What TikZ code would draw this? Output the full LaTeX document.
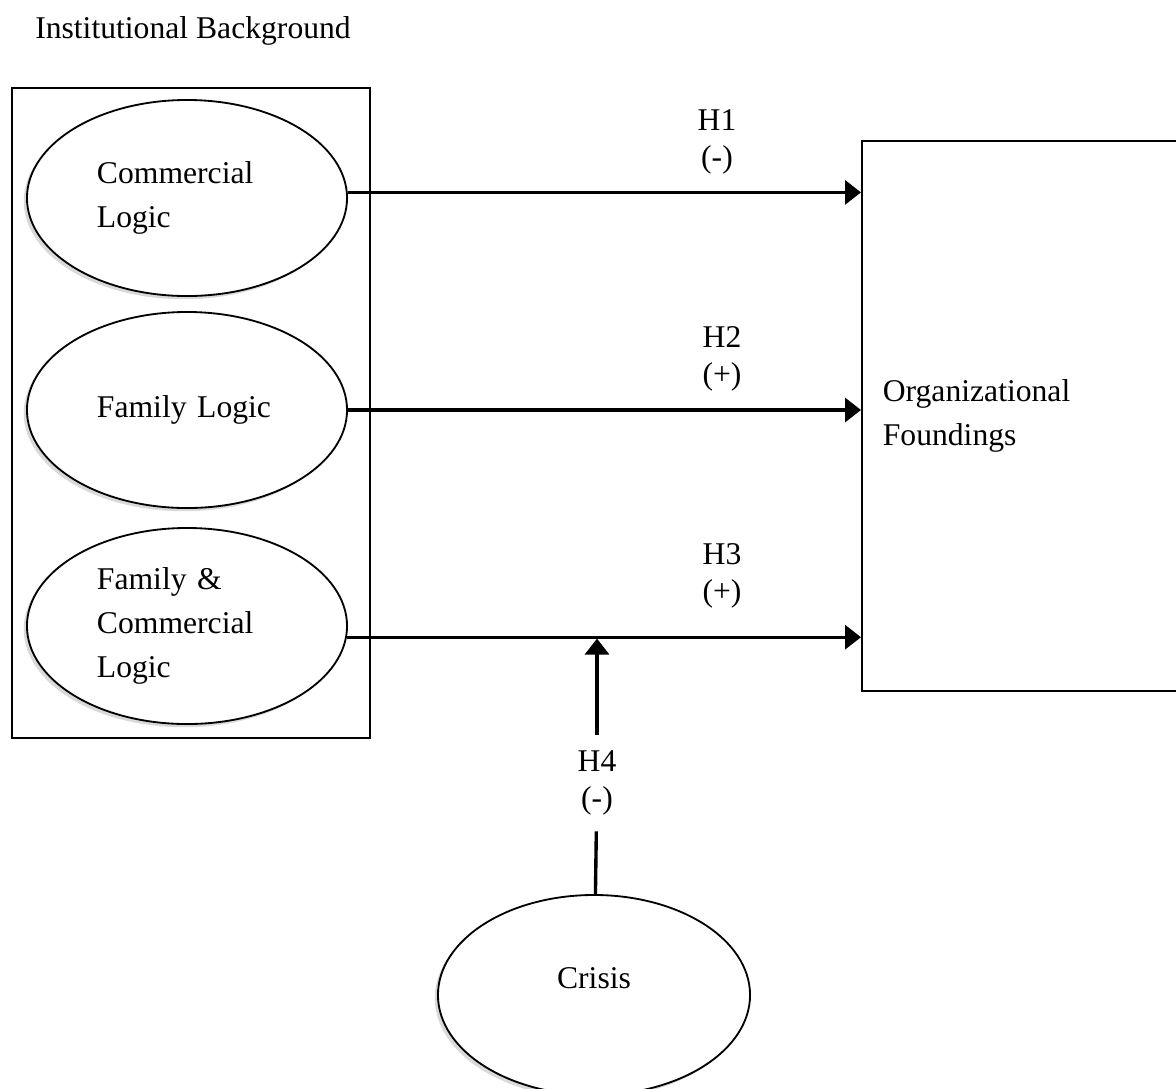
\documentclass[tikz,border=0pt]{standalone}
\usepackage{fontspec}
\setmainfont{Liberation Serif}
\usetikzlibrary{shapes.geometric,arrows.meta,shadows}

\begin{document}
\begin{tikzpicture}[x=0.025cm, y=-0.025cm,
    font=\fontsize{22.5}{31}\selectfont,
    logic/.style={ellipse, draw, line width=1.3pt, fill=white,
        minimum width=8cm, minimum height=4.9cm, text width=4.5cm, align=left,
        drop shadow={shadow xshift=-0.08cm, shadow yshift=-0.08cm, opacity=0.3}},
    box/.style={draw, line width=1.2pt},
    link/.style={line width=2.4pt, -{Triangle[length=0.4cm, width=0.6cm]}},
    hyp/.style={align=center, inner sep=0pt, font=\fontsize{22.5}{26}\selectfont}]
        \useasboundingbox (0,0) rectangle (1176,1088);
        \clip (0,0) rectangle (1176,1088);

        % Title and the frame round the logics
        \node[anchor=base west, inner sep=0pt] (title) at (35,38) {Institutional Background};
        \node[box, minimum width=8.95cm, minimum height=16.25cm] (inst) at (191,413) {};

        % Logics
        \node[logic] (comm) at (187,198) {Commercial\\Logic};
        \node[logic] (fam) at (187,410) {Family Logic};
        \node[logic] (fcl) at (187,626) {Family \&\\Commercial\\Logic};

        % Outcome and moderator
        \node[box, anchor=north west, minimum width=8.25cm, minimum height=13.75cm,
            text width=7.2cm, inner xsep=0.525cm, align=left] (org) at (861,140) {Organizational\\Foundings};
        \node[logic, minimum width=7.8cm, minimum height=5cm, align=center,
            text depth=24pt] (crisis) at (594,995) {Crisis};

        % Hypotheses
        \node[hyp] (h1) at (717,142) {H1\\(-)};
        \node[hyp] (h2) at (722,359) {H2\\(+)};
        \node[hyp] (h3) at (722,576) {H3\\(+)};
        \node[hyp, inner ysep=0.4cm] (h4) at (597,783) {H4\\(-)};

        % Draw the paths
        \draw[link] (comm.2) -- (comm.2 -| org.west);
        \draw[link] (fam) -- (fam -| org.west);
        \draw[link] (fcl.-4) -- (fcl.-4 -| org.west);
        \coordinate (mod) at (h4 |- fcl.-4);
        \draw[line width=2.4pt] (crisis) -- (h4);
        \draw[link, shorten >=1pt] (h4) -- (mod);
\end{tikzpicture}
\end{document}
